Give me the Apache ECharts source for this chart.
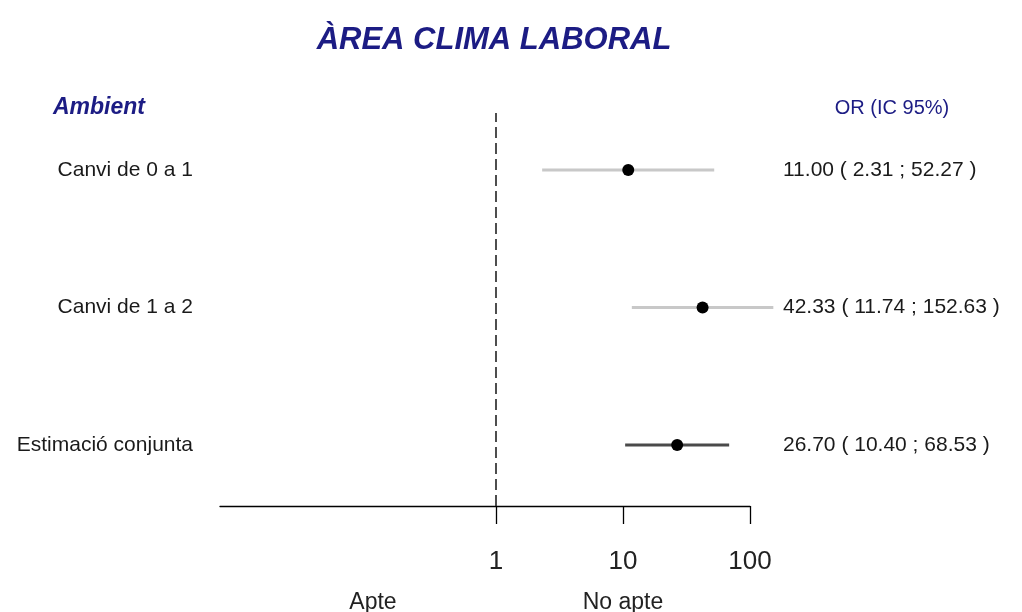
<!DOCTYPE html>
<html>
<head>
<meta charset="utf-8">
<script src="https://cdn.jsdelivr.net/npm/echarts@6/dist/echarts.min.js"></script>
<style>html,body{margin:0;padding:0;background:#fff;}#c{width:1022px;height:612px;}</style>
</head>
<body>
<div id="c"></div>
<script>
// ---- data ----
const chartTitle = 'ÀREA CLIMA LABORAL';
const groupHeader = 'Ambient';
const statHeader = 'OR (IC 95%)';
const categories = ['Canvi de 0 a 1', 'Canvi de 1 a 2', 'Estimació conjunta'];
const orValues = [11.00, 42.33, 26.70];
const ciLower = [2.31, 11.74, 10.40];
const ciUpper = [52.27, 152.63, 68.53];
const tickValues = [1, 10, 100];
const sideLabels = ['Apte', 'No apte'];

// ---- build ----
const n = categories.length;
const rowY = categories.map((c, i) => n - i);
const statText = categories.map((c, i) =>
  orValues[i].toFixed(2) + ' ( ' + ciLower[i].toFixed(2) + ' ; ' + ciUpper[i].toFixed(2) + ' )');
const lg = v => Math.log10(v);
const navy = '#1c1c84';
const ciColors = ['#c8c8c8', '#c8c8c8', '#4a4a4a'];
const sans = '"Liberation Sans", Arial, sans-serif';

const chart = echarts.init(document.getElementById('c'), null, {renderer: 'canvas'});
chart.setOption({
  backgroundColor: '#fff',
  animation: false,
  grid: {left: 220, right: 272, top: 113, bottom: 106, containLabel: false},
  xAxis: {
    type: 'value',
    min: lg(0.00672), max: lg(100),
    splitLine: {show: false},
    axisLine: {show: true, lineStyle: {color: '#000', width: 1.3}},
    axisTick: {show: true, length: 18, customValues: tickValues.map(lg), lineStyle: {color: '#000', width: 1.3}},
    axisLabel: {
      customValues: tickValues.map(lg),
      formatter: v => String(Math.round(Math.pow(10, v))),
      margin: 43, fontSize: 26, color: '#222', fontFamily: sans
    }
  },
  yAxis: [{
    type: 'value', min: 0.5564, max: 3.4145,
    splitLine: {show: false}, axisLine: {show: false}, axisTick: {show: false},
    axisLabel: {
      customValues: rowY,
      formatter: v => categories[n - Math.round(v)],
      margin: 27, fontSize: 21, color: '#1a1a1a', fontFamily: sans
    }
  }, {
    type: 'value', position: 'right', min: 0.5564, max: 3.4145,
    splitLine: {show: false}, axisLine: {show: false}, axisTick: {show: false},
    axisLabel: {
      customValues: rowY,
      formatter: v => statText[n - Math.round(v)],
      margin: 33, fontSize: 21, color: '#1a1a1a', fontFamily: sans
    }
  }],
  series: [{
    type: 'custom',
    clip: false,
    data: categories.map((c, i) => [lg(ciLower[i]), lg(ciUpper[i]), rowY[i], i]),
    renderItem: (params, api) => {
      const a = api.coord([api.value(0), api.value(2)]);
      const b = api.coord([api.value(1), api.value(2)]);
      return {
        type: 'line',
        shape: {x1: a[0], y1: a[1], x2: b[0], y2: b[1]},
        style: {stroke: ciColors[api.value(3)], lineWidth: 3.2}
      };
    },
    markLine: {
      silent: true, symbol: 'none', label: {show: false},
      lineStyle: {color: '#222', type: [11, 5], width: 1.6},
      data: [{xAxis: 0}]
    },
    z: 2
  }, {
    type: 'scatter',
    data: categories.map((c, i) => [lg(orValues[i]), rowY[i]]),
    symbol: 'circle', symbolSize: 12,
    itemStyle: {color: '#000', opacity: 1},
    z: 3
  }],
  graphic: [
    {type: 'text', style: {text: chartTitle, x: 494, y: 40, align: 'center', verticalAlign: 'middle', fill: navy, font: 'italic bold 31px ' + sans}},
    {type: 'text', style: {text: groupHeader, x: 53, y: 108, align: 'left', verticalAlign: 'middle', fill: navy, font: 'italic bold 23px ' + sans}},
    {type: 'text', style: {text: statHeader, x: 892, y: 108, align: 'center', verticalAlign: 'middle', fill: navy, font: '20px ' + sans}},
    {type: 'text', style: {text: sideLabels[0], x: 373, y: 603, align: 'center', verticalAlign: 'middle', fill: '#222', font: '23px ' + sans}},
    {type: 'text', style: {text: sideLabels[1], x: 623, y: 603, align: 'center', verticalAlign: 'middle', fill: '#222', font: '23px ' + sans}}
  ]
});
</script>
</body>
</html>
